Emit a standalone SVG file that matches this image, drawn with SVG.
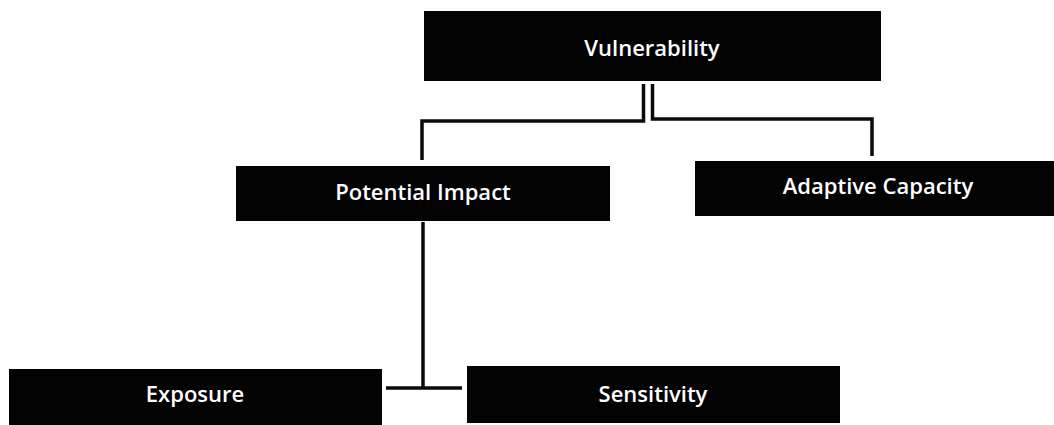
<svg xmlns="http://www.w3.org/2000/svg" width="1054" height="425" viewBox="0 0 1054 425">
  <style>
    .box { fill: #030303; }
    .lbl { fill: #ffffff; font-family: "Open Sans", "Noto Sans", "DejaVu Sans", sans-serif; font-weight: 600; font-size: 22px; text-anchor: middle; }
    .conn { fill: none; stroke: #0a0a0a; stroke-width: 3.5; stroke-linejoin: miter; stroke-linecap: butt; }
  </style>
  <rect x="0" y="0" width="1054" height="425" fill="#ffffff"/>
  <g id="connectors">
    <path class="conn" d="M643.5,84 V121 H422 V160"/>
    <path class="conn" d="M652.5,84 V119 H872 V156"/>
    <path class="conn" d="M423,222 V388"/>
    <path class="conn" d="M386,388 H462"/>
  </g>
  <g id="node-vulnerability">
    <rect class="box" x="424" y="11" width="457" height="70"/>
    <text class="lbl" x="652" y="56">Vulnerability</text>
  </g>
  <g id="node-potential-impact">
    <rect class="box" x="236" y="166" width="374" height="55"/>
    <text class="lbl" x="423" y="200">Potential Impact</text>
  </g>
  <g id="node-adaptive-capacity">
    <rect class="box" x="695" y="161" width="359" height="55"/>
    <text class="lbl" x="878" y="194">Adaptive Capacity</text>
  </g>
  <g id="node-exposure">
    <rect class="box" x="9" y="369" width="373" height="56"/>
    <text class="lbl" x="195" y="402">Exposure</text>
  </g>
  <g id="node-sensitivity">
    <rect class="box" x="467" y="366" width="373" height="57"/>
    <text class="lbl" x="653" y="402">Sensitivity</text>
  </g>
</svg>
